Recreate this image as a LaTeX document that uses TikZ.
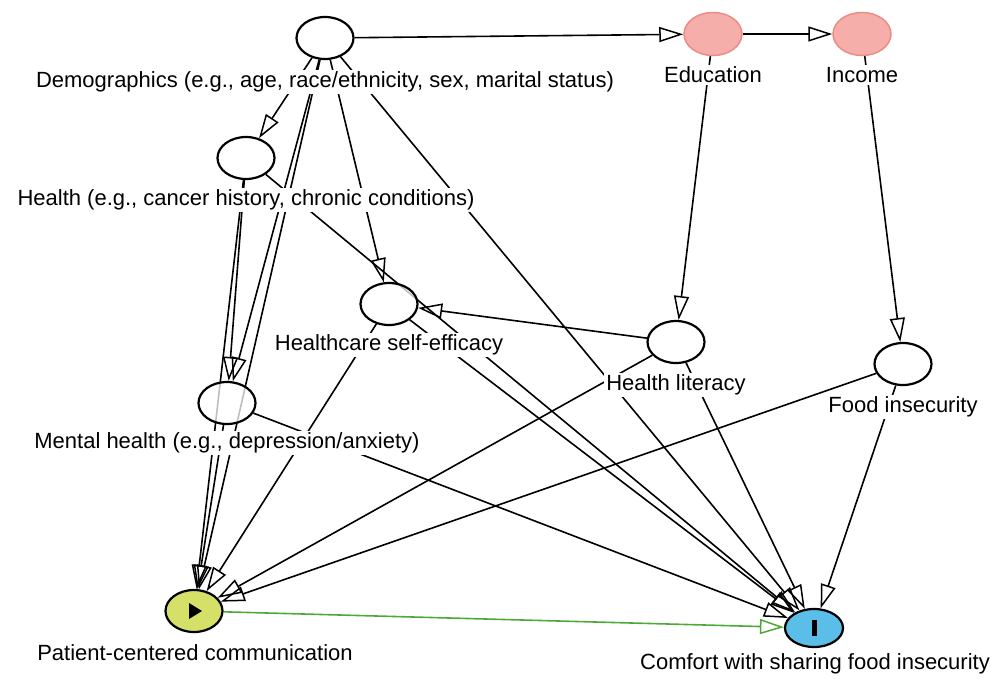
\documentclass[tikz,border=0pt]{standalone}
\usepackage{fontspec}
\setmainfont{Liberation Sans}
\usetikzlibrary{arrows.meta, shapes.geometric, backgrounds, calc}
\definecolor{exposure}{RGB}{212,224,104}
\definecolor{outcome}{RGB}{91,190,232}
\definecolor{ancestor}{RGB}{246,174,170}
\definecolor{ancborder}{RGB}{236,140,134}
\definecolor{causal}{RGB}{78,168,58}

\begin{document}
\begin{tikzpicture}[
  x=1pt, y=-1pt,
  every node/.style={font=\fontsize{22}{25}\selectfont},
  var/.style={ellipse, draw, line width=2.2pt, fill=white, fill opacity=0.75, draw opacity=1, minimum width=57pt, minimum height=42pt, inner sep=0pt},
  anc/.style={ellipse, draw=ancborder, line width=1.5pt, fill=ancestor, minimum width=58pt, minimum height=43pt, inner sep=0pt},
  expo/.style={ellipse, draw, line width=2.2pt, fill=exposure, minimum width=57pt, minimum height=42pt, inner sep=0pt},
  outc/.style={ellipse, draw, line width=2.2pt, fill=outcome, minimum width=58pt, minimum height=38pt, inner sep=0pt},
  lbl/.style={fill=white, inner sep=2pt},
  arr/.style={-{Triangle[open, length=24pt, width=15pt, line width=1.5pt]}, line width=1.6pt},
  green arr/.style={arr, draw=causal}
]
  \useasboundingbox (0,0) rectangle (995,678);

  % Variablen
  \node[var] (demo) at (325,38) {};
  \node[anc] (edu) at (713,34) {};
  \node[anc] (inc) at (862,34) {};
  \node[var] (hlth) at (246,158) {};
  \node[var] (selfeff) at (389,304) {};
  \node[var] (hlit) at (676,342) {};
  \node[var] (foodins) at (903,364) {};
  \node[var] (mental) at (227,403) {};
  \node[expo] (pcc) at (194,611) {};
  \node[outc] (comfort) at (814,628) {};

  % Symbole
  \fill ($(pcc)+(-5,-8)$) -- ++(0,16) -- ++(13,-8) -- cycle;
  \fill ($(comfort)+(-2.5,-8)$) rectangle ($(comfort)+(2.5,8)$);

  % Beschriftungen
  \node[lbl] (demoL) at (325,82) {Demographics (e.g., age, race/ethnicity, sex, marital status)};
  \node[lbl] (eduL) at (713,75) {Education};
  \node[lbl] (incL) at (862,75) {Income};
  \node[lbl] (hlthL) at (246,200) {Health (e.g., cancer history, chronic conditions)};
  \node[lbl] (selfeffL) at (389,345) {Healthcare self-efficacy};
  \node[lbl] (hlitL) at (676,385) {Health literacy};
  \node[lbl] (foodinsL) at (903,407) {Food insecurity};
  \node[lbl] (mentalL) at (227,443) {Mental health (e.g., depression/anxiety)};
  \node[lbl] (pccL) at (195,653) {Patient-centered communication};
  \node[lbl] (comfortL) at (815,664) {Comfort with sharing food insecurity};

  % Kanten
  \begin{scope}[on background layer]
    \draw[arr] (demo) -- (edu);
    \draw[arr] (edu) -- (inc);
    \draw[arr] (demo) -- (hlth);
    \draw[arr] (demo) -- (selfeff);
    \draw[arr] (demo) -- (mental);
    \draw[arr] (demo) -- (pcc);
    \draw[arr] (demo) -- (comfort);
    \draw[arr] (edu) -- (hlit);
    \draw[arr] (inc) -- (foodins);
    \draw[arr] (hlth) -- (mental);
    \draw[arr] (hlth) -- (pcc);
    \draw[arr] (hlth) -- (comfort);
    \draw[arr] (hlit) -- (selfeff);
    \draw[arr] (selfeff) -- (pcc);
    \draw[arr] (selfeff) -- (comfort);
    \draw[arr] (hlit) -- (pcc);
    \draw[arr] (hlit) -- (comfort);
    \draw[arr] (foodins) -- (pcc);
    \draw[arr] (foodins) -- (comfort);
    \draw[arr] (mental) -- (pcc);
    \draw[arr] (mental) -- (comfort);
    \draw[green arr] (pcc) -- (comfort);
  \end{scope}
\end{tikzpicture}
\end{document}
